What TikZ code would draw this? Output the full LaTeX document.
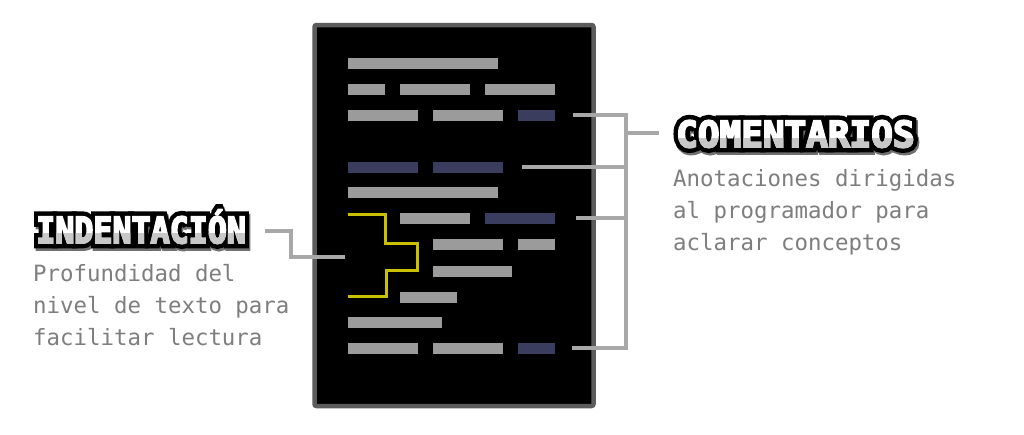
\documentclass[tikz,border=0pt]{standalone}
\usepackage{fontspec}
\setmainfont{DejaVu Sans}
\newfontfamily\monofont{DejaVu Sans Mono}
\newfontfamily\pixfill{DejaVu Sans Mono Bold}[FakeBold=5]
\newfontfamily\pixout{DejaVu Sans Mono Bold}[FakeBold=30]
\usepackage{graphicx}
\definecolor{barG}{HTML}{9B9B9B}
\definecolor{barB}{HTML}{3A3D5E}
\definecolor{connG}{HTML}{A8A8A8}
\definecolor{txtG}{HTML}{7E7E7E}
\definecolor{yel}{HTML}{C9C100}
\definecolor{brd}{HTML}{5C5C5C}
\definecolor{lowG}{HTML}{C8C8C8}
\definecolor{shadG}{HTML}{707070}
\begin{document}
\begin{tikzpicture}[x=1pt,y=-1pt,
  codebox/.style={draw=brd, fill=black, line width=4.5pt, rounded corners=2pt, minimum width=279pt, minimum height=381pt, inner sep=0pt},
  bar/.style={rectangle, fill=barG, inner sep=0pt, minimum height=11.4pt, anchor=north west},
  bbar/.style={bar, fill=barB},
  conn/.style={draw=connG, line width=4pt},
  brk/.style={draw=yel, line width=3pt},
  desc/.style={anchor=base west, inner sep=0pt, text=txtG, font=\fontsize{22.4}{32}\monofont},
  ttl/.style={anchor=base west, inner sep=0pt, font=\fontsize{36}{40}\pixfill},
  ttlo/.style={anchor=base west, inner sep=0pt, font=\fontsize{36}{40}\pixout}
]
\useasboundingbox (0,0) rectangle (1024,434);
\fill[white] (0,0) rectangle (1024,434);

% code window
\node[codebox] (code) at (454,215.5) {};

% bars
\node[bar, minimum width=150pt] (r1a) at (347.7,57.3) {};
\node[bar, minimum width=37.3pt] (r2a) at (347.7,83.3) {};
\node[bar, minimum width=70pt] (r2b) at (399.3,83.3) {};
\node[bar, minimum width=70pt] (r2c) at (485,83.3) {};
\node[bar, minimum width=69.6pt] (r3a) at (347.7,109.3) {};
\node[bar, minimum width=70pt] (r3b) at (433,109.3) {};
\node[bbar, minimum width=37.7pt] (r3c) at (517.3,109.3) {};
\node[bbar, minimum width=69.6pt] (r4a) at (347.7,161.3) {};
\node[bbar, minimum width=70pt] (r4b) at (433,161.3) {};
\node[bar, minimum width=150pt] (r5a) at (347.7,186.3) {};
\node[bar, minimum width=70pt] (r6a) at (399.3,212.3) {};
\node[bbar, minimum width=70pt] (r6b) at (485,212.3) {};
\node[bar, minimum width=70pt] (r7a) at (433,238.3) {};
\node[bar, minimum width=37.7pt] (r7b) at (517.3,238.3) {};
\node[bar, minimum width=78.7pt] (r8a) at (433,265.3) {};
\node[bar, minimum width=57.7pt] (r9a) at (399.3,291.3) {};
\node[bar, minimum width=94pt] (r10a) at (347.7,316.3) {};
\node[bar, minimum width=69.6pt] (r11a) at (347.7,342.3) {};
\node[bar, minimum width=70pt] (r11b) at (433,342.3) {};
\node[bbar, minimum width=37.7pt] (r11c) at (517.3,342.3) {};

% indentation bracket
\draw[brk] (347.7,214.3) -- (385.3,214.3) -- (385.3,243.3) -- (417.3,243.3)
  -- (417.3,270) -- (386,270) -- (386,296.7) -- (347.7,296.7);

% titles
\begin{scope}[miter limit=2, line join=miter]
\node[ttlo, text=shadG] (tIndS) at (37.5,245.5) {\scalebox{0.88}[1]{INDENTACIÓN}};
\node[ttlo, text=black] (tIndO) at (36,243) {\scalebox{0.88}[1]{INDENTACIÓN}};
\node[ttlo, text=shadG] (tComS) at (677.5,149.5) {COMENTARIOS};
\node[ttlo, text=black] (tComO) at (676,147) {COMENTARIOS};
\node[ttl, text=white] (tInd) at (36,243) {\scalebox{0.88}[1]{INDENTACIÓN}};
\begin{scope}
  \clip (0,233) rectangle (300,250);
  \node[ttl, text=lowG] (tIndL) at (36,243) {\scalebox{0.88}[1]{INDENTACIÓN}};
\end{scope}
\node[ttl, text=white] (tCom) at (676,147) {COMENTARIOS};
\begin{scope}
  \clip (660,138) rectangle (1000,155);
  \node[ttl, text=lowG] (tComL) at (676,147) {COMENTARIOS};
\end{scope}
\end{scope}

% descriptions
\node[desc] (dI1) at (33,281) {Profundidad del};
\node[desc] (dI2) at (33,313) {nivel de texto para};
\node[desc] (dI3) at (33,345) {facilitar lectura};
\node[desc] (dC1) at (673,186) {Anotaciones dirigidas};
\node[desc] (dC2) at (673,218) {al programador para};
\node[desc] (dC3) at (673,250) {aclarar conceptos};

% connectors, right
\coordinate (vx) at (626,0);
\coordinate (cEnd) at (659,133.3);
\draw[conn] ([xshift=18pt]r3c.east) -- (r3c.east -| vx) -- (r11c.east -| vx) -- ([xshift=17pt]r11c.east);
\draw[conn] ([xshift=19pt]r4b.east) -- (r4b.east -| vx);
\draw[conn] ([xshift=21pt]r6b.east) -- (r6b.east -| vx);
\draw[conn] (cEnd -| vx) -- (cEnd);

% connector, left
\coordinate (lStart) at (265,231.3);
\coordinate (lEnd) at (345,257);
\draw[conn] (lStart) -| (290.8,257) -- (lEnd);
\end{tikzpicture}
\end{document}
